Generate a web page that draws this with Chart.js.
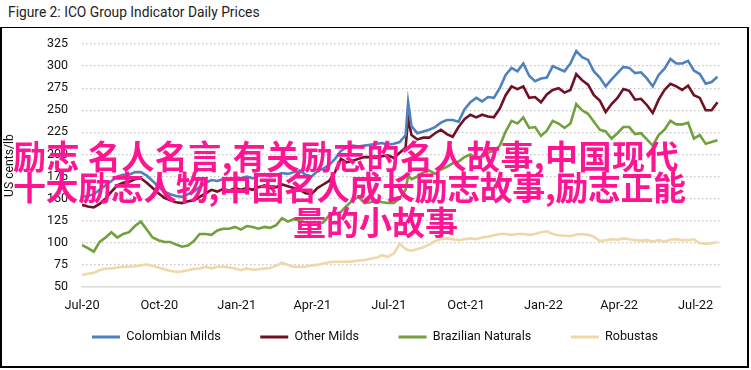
<!DOCTYPE html>
<html>
<head>
<meta charset="utf-8">
<script src="https://cdn.jsdelivr.net/npm/chart.js@4.4.1/dist/chart.umd.min.js"></script>
<style>
  html, body { margin: 0; padding: 0; background: #fff; }
  body { width: 751px; height: 370px; position: relative; overflow: hidden; }
  #title { position: absolute; left: 8px; top: 4px; font-family: Roboto, sans-serif; font-size: 13.8px; color: #222; white-space: nowrap; }
  #frame { position: absolute; left: 0; top: 27px; width: 749px; height: 341px; border: 2px solid #000; border-top-width: 1.5px; box-sizing: border-box; pointer-events: none; }
  #c { position: absolute; left: 0; top: 0; }
  .ov { position: absolute; font-family: "Noto Sans CJK SC", sans-serif; font-weight: 700; font-size: 33px; line-height: 33px; color: #ff1493; white-space: nowrap; }
</style>
</head>
<body>
<div id="title">Figure 2: ICO Group Indicator Daily Prices</div>
<canvas id="c" width="751" height="370"></canvas>
<div id="frame"></div>
<div class="ov" style="left:13px; top:139px; letter-spacing:0.45px;">励志 名人名言,有关励志的名人故事,中国现代</div>
<div class="ov" style="left:13px; top:170px; letter-spacing:-0.4px;">十大励志人物,中国名人成长励志故事,励志正能</div>
<div class="ov" style="left:293px; top:205px;">量的小故事</div>
<script>
// Days since 1 Jul 2020 (weekly samples, plus the frost spike on day 388)
const dayOffsets = [0,7,14,21,28,35,42,49,56,63,70,77,84,91,98,105,112,119,126,133,140,147,154,161,168,175,182,189,196,203,210,217,224,231,238,245,252,259,266,273,280,287,294,301,308,315,322,329,336,343,350,357,364,371,378,385,388,392,399,406,413,420,427,434,441,448,455,462,469,476,483,490,497,504,511,518,525,532,539,546,553,560,567,574,581,588,595,602,609,616,623,630,637,644,651,658,665,672,679,686,693,700,707,714,721,728,735,742,749,756];

const tickDays = [0, 92, 184, 274, 365, 457, 549, 639, 730];
const tickLabels = ['Jul-20','Oct-20','Jan-21','Apr-21','Jul-21','Oct-21','Jan-22','Apr-22','Jul-22'];

const seriesNames = ['Colombian Milds','Other Milds','Brazilian Naturals','Robustas'];

const colombianMilds = [152,153,155,160,165,170,175,177,177,180,180,176,170,163,158,155,153,152,155,158,163,168,171,170,172,171,174,173,175,173,176,178,175,177,179,178,180,182,177,175,181,184,188,195,204,208,210,209,210,211,212,213,211,212,214,
  222,259,
  232,224,226,228,231,236,239,239,237,251,259,264,260,265,264,275,290,298,294,303,289,283,286,287,300,297,294,303,317,310,307,294,287,277,285,292,299,298,292,293,286,277,290,297,308,303,303,306,295,291,280,282,288];

const otherMilds = [143,141,140,144,150,158,165,168,169,172,173,168,162,156,151,148,146,145,147,148,152,156,160,158,161,159,162,160,162,160,163,165,162,163,166,164,162,160,156,155,162,166,170,180,195,191,193,195,197,197,196,198,199,196,202,
  208,241,
  222,217,219,219,224,228,223,220,231,240,245,242,245,243,242,252,267,277,274,277,264,265,259,268,273,275,270,273,291,284,279,267,261,248,257,264,274,272,262,263,256,247,262,273,280,277,273,278,267,264,250,250,259];

const brazilianNaturals = [97.5,94,90,101,106,112,106,110,112,119,124,115,106,103,101,101,98,95.6,97,102,110,110,109,114,116,116,118,115,119,118,116,118,117,120,128,124,127,125,123,122,122,123,131,133,135,142,148,152,145,146,148,146,145,145,150,
  160,176,
  172,175,180,182,178,183,186,190,192,197,200,196,198,202,204,210,226,238,235,242,230,231,221,227,238,235,230,235,257,250,246,237,228,226,218,224,231,231,223,224,217,210,222,228,238,234,234,236,218,222,212,214,216];

const robustas = [63.6,65,66,69,71,71,72,73,73,73.5,74.5,75.5,74,72,70,68,67.3,67.5,69,70.5,71,73,71,73,73,72,71,69,71,69.5,70,71,71.5,74,77.5,75,73,73,73,74.5,75,76.5,78,78.6,78.6,78.6,79,80,80.6,82,83,86,84,88,99,
  93,92,
  91,93,95,98,102,104,105,104,103,104,105,104,106,107,108.5,110,110,109,110,110,109,110,112,113,110,108.5,108,107.5,109.5,110,109,107,102,103,104,103.5,105,104,103,102.5,103,101.5,103,101.5,103.5,104,103,103,104,99.5,99,99.5,101];

const yTicks = [50,75,100,125,150,175,200,225,250,275,300,325];

const colors = ['#4f81bd', '#6f1024', '#72a03c', '#efd7a6'];
const allSeries = [colombianMilds, otherMilds, brazilianNaturals, robustas];

const FONT = 'Roboto, sans-serif';

const datasets = allSeries.map((vals, i) => ({
  label: seriesNames[i],
  data: dayOffsets.map((d, j) => ({x: d, y: vals[j]})),
  borderColor: colors[i],
  backgroundColor: colors[i],
  borderWidth: 2.6,
  pointRadius: 0,
  tension: 0,
  fill: false,
  order: i
}));

// place the legend row where the original has it
const legendPlace = {
  id: 'legendPlace',
  afterLayout(chart) {
    const L = chart.legend;
    if (!L) return;
    const h = L.height;
    L.top = 291.2; L.bottom = L.top + h;
    L.left = 30; L.right = 720; L.width = L.right - L.left;
  }
};

new Chart(document.getElementById('c'), {
  type: 'line',
  data: { datasets },
  plugins: [legendPlace],
  options: {
    responsive: false,
    animation: false,
    devicePixelRatio: 1,
    layout: { padding: { top: 44, right: 31, left: 0, bottom: 0 } },
    plugins: {
      title: { display: false },
      tooltip: { enabled: false },
      legend: {
        position: 'bottom',
        maxHeight: 53,
        labels: {
          boxWidth: 28,
          boxHeight: 3,
          padding: 39.5,
          color: '#111',
          font: { family: FONT, size: 12.6 },
          generateLabels(chart) {
            const items = Chart.defaults.plugins.legend.labels.generateLabels(chart);
            items.forEach(it => { it.lineWidth = 0; });
            return items;
          }
        }
      }
    },
    scales: {
      x: {
        type: 'linear',
        min: 0,
        max: 759,
        afterBuildTicks(scale) { scale.ticks = tickDays.map(v => ({value: v})); },
        afterFit(scale) { scale.height = 30; },
        ticks: {
          color: '#111',
          font: { family: FONT, size: 12.8 },
          padding: 11.5,
          maxRotation: 0,
          autoSkip: false,
          callback(value) { const i = tickDays.indexOf(value); return i >= 0 ? tickLabels[i] : ''; }
        },
        grid: { display: false, drawTicks: false },
        border: { display: true, color: '#d9d9d9', width: 1.5 }
      },
      y: {
        min: 50,
        max: 325,
        afterBuildTicks(scale) { scale.ticks = yTicks.map(v => ({value: v})); },
        afterFit(scale) { scale.width = 82; },
        ticks: {
          color: '#111',
          font: { family: FONT, size: 12.5 },
          padding: 14
        },
        grid: {
          drawTicks: false,
          lineWidth: 1.3,
          color: ctx => (ctx.tick && ctx.tick.value === 50) ? 'rgba(0,0,0,0)' : '#c4c4c4'
        },
        border: { display: false, dash: [1.5, 2.5] },
        title: {
          display: true,
          text: 'US cents/lb',
          color: '#111',
          font: { family: FONT, size: 12.2 },
          padding: { top: 3, bottom: 0 }
        }
      }
    }
  }
});
</script>
</body>
</html>
